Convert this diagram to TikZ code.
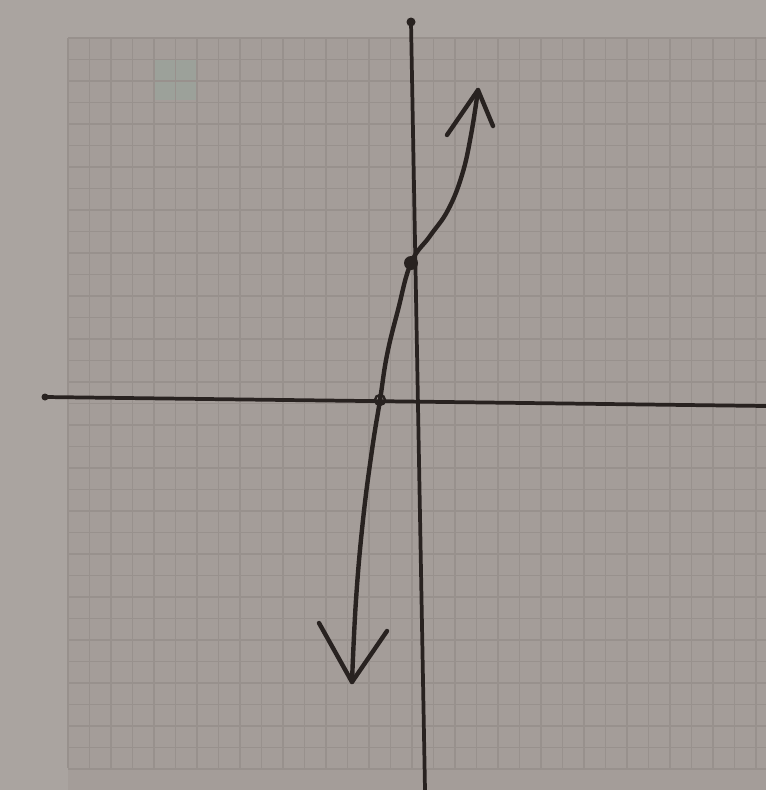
\documentclass[tikz,border=0pt]{standalone}
\begin{document}
\begin{tikzpicture}[x=0.75pt,y=-0.75pt,
  ink/.style={draw=inkc,line width=3pt,line cap=round,line join=round},
  gridline/.style={draw=gridc,line width=1pt}]
\definecolor{paper}{RGB}{170,164,160}
\definecolor{sheet}{RGB}{164,157,153}
\definecolor{gridc}{RGB}{152,145,141}
\definecolor{inkc}{RGB}{40,34,32}
\definecolor{greenish}{RGB}{155,163,155}
\useasboundingbox (0,0) rectangle (766,790);
\fill[paper] (0,0) rectangle (766,790);
\fill[sheet] (68,38) rectangle (766,790);
\fill[greenish,opacity=0.8] (155,60) rectangle (198,100);
% grid
\foreach \i in {0,...,32} {
  \pgfmathsetmacro{\xx}{68+21.5*\i}
  \draw[gridline] (\xx,38) -- (\xx,768);
}
\foreach \j in {0,...,34} {
  \pgfmathsetmacro{\yy}{38+21.5*\j}
  \draw[gridline] (68,\yy) -- (766,\yy);
}
% axes
\coordinate (xl) at (45,397);
\coordinate (xr) at (766,406);
\coordinate (yt) at (411,22);
\coordinate (yb) at (425,790);
\draw[ink,line width=2.8pt] (xl) -- (xr);
\draw[ink,line width=2.8pt] (yt) -- (yb);
\fill[inkc] (yt) circle (4.5);
\fill[inkc] (xl) circle (3.5);
% curve
\coordinate (tipT) at (478,90);
\coordinate (tipB) at (352,682);
\coordinate (yint) at (411,263);
\coordinate (xint) at (380,400);
\draw[ink,line width=3.3pt] plot[smooth,tension=0.7] coordinates {
  (352,682) (356,600) (363,520) (372,450) (380,400) (387,355) (398,310)
  (411,263) (430,236) (448,210) (462,175) (471,135) (478,90)};
% arrowheads
\draw[ink,line width=3.3pt] (447,135) -- (tipT) -- (493,126);
\draw[ink,line width=3.3pt] (319,623) -- (tipB) -- (387,631);
% intercept marks
\fill[inkc] (yint) circle (7);
\draw[inkc,line width=1.8pt] (xint) circle (5);
\end{tikzpicture}
\end{document}
